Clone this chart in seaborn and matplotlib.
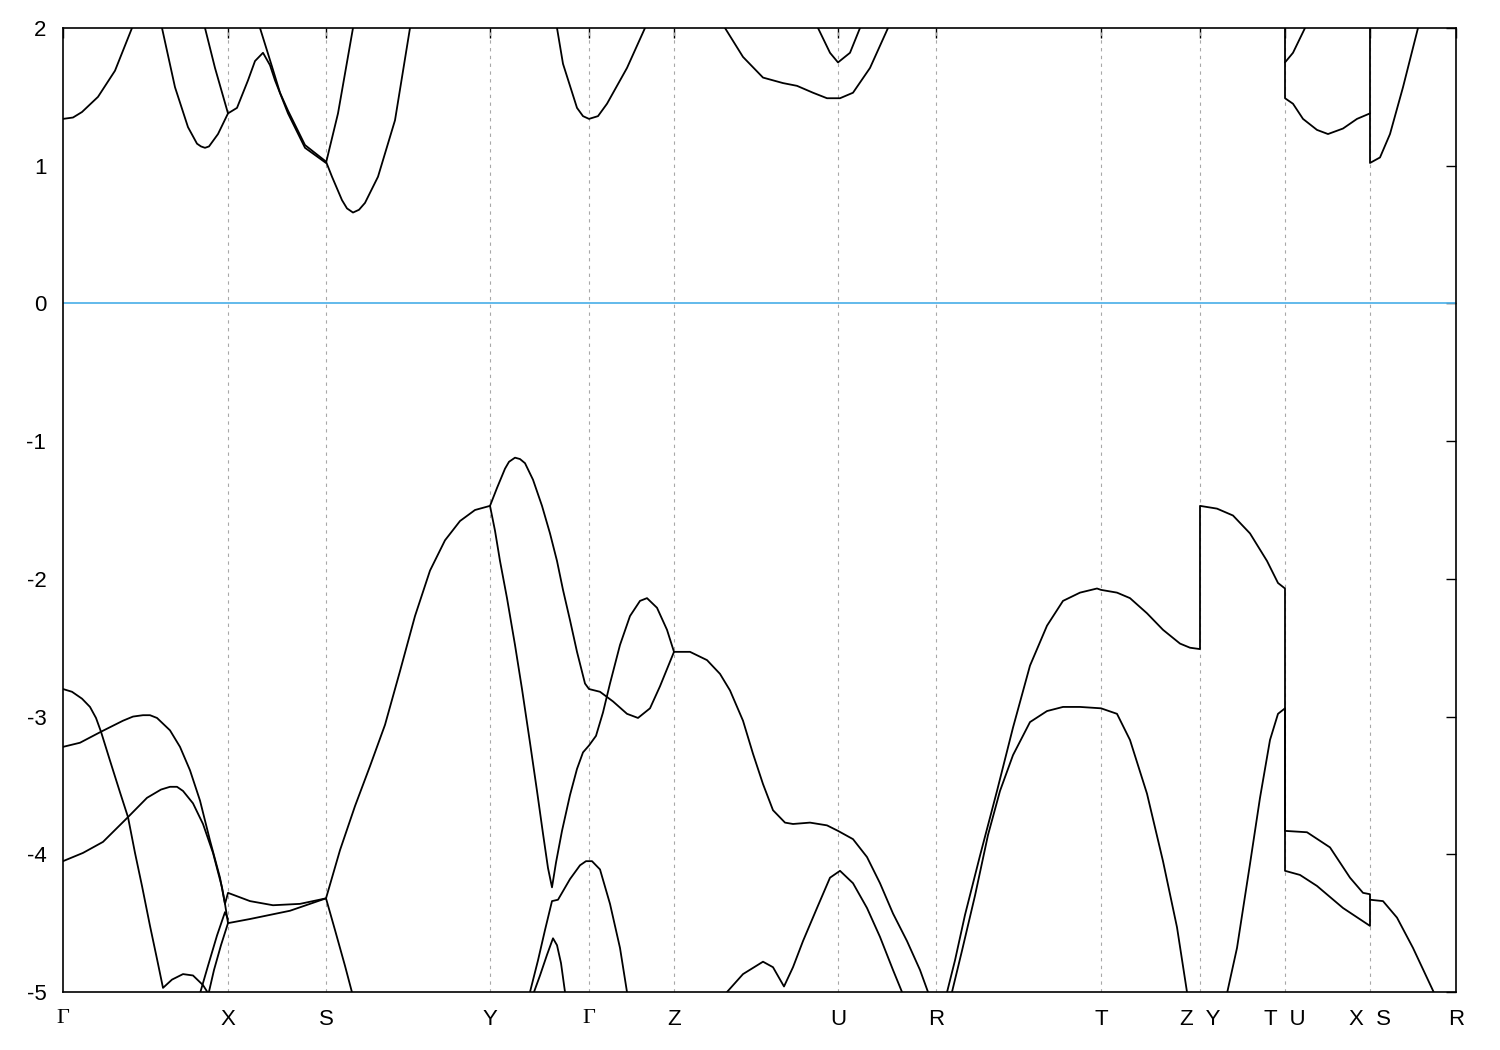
import pandas as pd
import matplotlib
matplotlib.use("Agg")
import matplotlib.pyplot as plt
import seaborn as sns


# High-symmetry points along the k-path
kpath_pos = [0.000, 0.165, 0.263, 0.427, 0.526, 0.611, 0.775, 0.873,
             1.038, 1.137, 1.222, 1.307, 1.393]
kpath_labels = ["Γ", "X", "S", "Y", "Γ", "Z", "U", "R", "T",
                "Z  Y", "T  U", "X  S", "R"]

# -----------------------------
# VALENCE BANDS (eV)
# -----------------------------
vb1_k = [0.000, 0.017, 0.038, 0.060, 0.070, 0.080, 0.087, 0.094, 0.107, 0.117, 0.127, 0.137, 0.147, 0.157, 0.162, 0.165,
         0.187, 0.210, 0.237, 0.263,
         0.277, 0.292, 0.307, 0.322, 0.337, 0.352, 0.367, 0.382, 0.397, 0.412, 0.427,
         0.434, 0.442, 0.446, 0.452, 0.457, 0.462, 0.470, 0.479, 0.487, 0.494, 0.500, 0.507, 0.514, 0.522, 0.526,
         0.537, 0.550, 0.564, 0.575, 0.587, 0.597, 0.611,
         0.627, 0.644, 0.657, 0.667, 0.680, 0.690, 0.700, 0.710, 0.722, 0.730, 0.747, 0.764, 0.775,
         0.790, 0.804, 0.817, 0.830, 0.844, 0.857, 0.865, 0.870]
vb1_e = [-3.22, -3.19, -3.11, -3.03, -3.00, -2.99, -2.99, -3.01, -3.10, -3.22, -3.39, -3.61, -3.90, -4.17, -4.36, -4.28,
         -4.34, -4.37, -4.36, -4.32,
         -3.97, -3.65, -3.36, -3.06, -2.67, -2.27, -1.94, -1.72, -1.58, -1.50, -1.47,
         -1.34, -1.20, -1.15, -1.12, -1.13, -1.16, -1.28, -1.47, -1.67, -1.87, -2.08, -2.30, -2.53, -2.76, -2.80,
         -2.82, -2.89, -2.98, -3.01, -2.94, -2.78, -2.53,
         -2.53, -2.59, -2.69, -2.81, -3.03, -3.27, -3.49, -3.68, -3.77, -3.78, -3.77, -3.79, -3.83,
         -3.89, -4.02, -4.21, -4.43, -4.63, -4.84, -5.00, -5.10]

vb2_k = [0.000, 0.009, 0.019, 0.027, 0.033, 0.038, 0.047, 0.057, 0.065, 0.072,
         0.079, 0.087, 0.094, 0.100, 0.109, 0.120, 0.130, 0.140, 0.147, 0.152]
vb2_e = [-2.80, -2.82, -2.87, -2.93, -3.01, -3.11, -3.32, -3.55, -3.73, -3.99,
         -4.23, -4.52, -4.76, -4.97, -4.91, -4.87, -4.88, -4.95, -5.03, -5.13]

vb3_k = [0.000, 0.020, 0.040, 0.065, 0.084, 0.098, 0.107, 0.114, 0.120, 0.130, 0.140, 0.150, 0.159, 0.162, 0.165,
         0.187, 0.207, 0.227, 0.247, 0.263,
         0.272, 0.282, 0.290]
vb3_e = [-4.05, -3.99, -3.91, -3.73, -3.59, -3.53, -3.51, -3.51, -3.54, -3.63, -3.78, -3.99, -4.24, -4.36, -4.50,
         -4.47, -4.44, -4.41, -4.36, -4.32,
         -4.55, -4.81, -5.03]

vb4_k = [0.135, 0.145, 0.154, 0.162, 0.165]
vb4_e = [-5.06, -4.81, -4.59, -4.42, -4.47]

vb5_k = [0.144, 0.151, 0.158, 0.165]
vb5_e = [-5.06, -4.84, -4.66, -4.50]

vb6_k = [0.427, 0.432, 0.437, 0.444, 0.452, 0.459, 0.467, 0.474, 0.480, 0.485, 0.489,
         0.493, 0.499, 0.507, 0.514, 0.520, 0.526,
         0.533, 0.540, 0.547, 0.557, 0.567, 0.577, 0.584, 0.594, 0.604, 0.611]
vb6_e = [-1.47, -1.65, -1.87, -2.14, -2.48, -2.80, -3.19, -3.54, -3.85, -4.10, -4.24,
         -4.06, -3.83, -3.57, -3.38, -3.26, -3.21,
         -3.14, -2.97, -2.76, -2.48, -2.27, -2.16, -2.14, -2.21, -2.37, -2.53]

vb7_k = [0.464, 0.467, 0.475, 0.482, 0.489, 0.495, 0.507, 0.517, 0.523, 0.529, 0.537, 0.547, 0.557, 0.564, 0.567]
vb7_e = [-5.10, -5.00, -4.77, -4.55, -4.34, -4.33, -4.18, -4.08, -4.05, -4.05, -4.11, -4.36, -4.68, -5.00, -5.13]

vb8_k = [0.468, 0.477, 0.484, 0.490, 0.494, 0.498, 0.502, 0.504]
vb8_e = [-5.06, -4.88, -4.73, -4.61, -4.66, -4.79, -5.00, -5.11]

vb9_k = [0.659, 0.664, 0.680, 0.700, 0.710, 0.721, 0.730, 0.740, 0.754,
         0.767, 0.777, 0.790, 0.804, 0.817, 0.830, 0.839, 0.842]
vb9_e = [-5.13, -5.00, -4.87, -4.78, -4.82, -4.96, -4.82, -4.63, -4.39,
         -4.17, -4.12, -4.21, -4.39, -4.60, -4.84, -5.00, -5.08]

vb10_k = [0.882, 0.892, 0.902, 0.917, 0.934, 0.950, 0.967, 0.984, 1.000, 1.017, 1.034, 1.038,
          1.054, 1.067, 1.084, 1.100, 1.117, 1.127, 1.137,
          1.137, 1.154, 1.170, 1.187, 1.204, 1.215, 1.222,
          1.222, 1.244, 1.267, 1.287, 1.300, 1.307,
          1.307, 1.320, 1.334, 1.350, 1.370, 1.377]
vb10_e = [-5.06, -4.77, -4.44, -4.01, -3.54, -3.08, -2.63, -2.34, -2.16, -2.10, -2.07, -2.08,
          -2.10, -2.14, -2.25, -2.37, -2.47, -2.50, -2.51,
          -1.47, -1.49, -1.54, -1.67, -1.87, -2.03, -2.07,
          -3.83, -3.84, -3.95, -4.17, -4.28, -4.29,
          -4.33, -4.34, -4.46, -4.68, -4.99, -5.10]

vb11_k = [0.887, 0.899, 0.912, 0.925, 0.937, 0.950, 0.967, 0.984, 1.000, 1.017, 1.038,
          1.054, 1.067, 1.084, 1.100, 1.114, 1.124, 1.127]
vb11_e = [-5.06, -4.70, -4.30, -3.86, -3.54, -3.28, -3.04, -2.96, -2.93, -2.93, -2.94,
          -2.98, -3.17, -3.56, -4.05, -4.53, -5.00, -5.12]

vb12_k = [1.161, 1.164, 1.174, 1.187, 1.197, 1.207, 1.215, 1.222,
          1.222, 1.237, 1.254, 1.280, 1.307, 1.307]
vb12_e = [-5.10, -5.01, -4.68, -4.07, -3.59, -3.17, -2.98, -2.94,
          -4.12, -4.15, -4.23, -4.39, -4.52, -4.33]

# -----------------------------
# CONDUCTION BANDS (eV)
# -----------------------------
cb1_k = [0.000, 0.010, 0.019, 0.035, 0.052, 0.069, 0.077]
cb1_e = [1.34, 1.35, 1.39, 1.50, 1.69, 2.00, 2.09]

cb2_k = [0.095, 0.099, 0.112, 0.125, 0.134, 0.138, 0.142, 0.146, 0.149, 0.155, 0.165,
         0.174, 0.185, 0.192, 0.200, 0.207, 0.212, 0.225, 0.242, 0.263,
         0.275, 0.290, 0.293]
cb2_e = [2.13, 2.00, 1.57, 1.28, 1.16, 1.14, 1.13, 1.14, 1.17, 1.23, 1.38,
         1.42, 1.62, 1.76, 1.82, 1.73, 1.62, 1.38, 1.13, 1.02,
         1.38, 2.00, 2.13]

cb3_k = [0.140, 0.142, 0.152, 0.165]
cb3_e = [2.09, 2.00, 1.71, 1.38]

cb4_k = [0.195, 0.197, 0.209, 0.217, 0.225, 0.242, 0.263,
         0.269, 0.279, 0.284, 0.290, 0.296, 0.302, 0.315, 0.332, 0.347, 0.349]
cb4_e = [2.09, 2.00, 1.72, 1.53, 1.40, 1.15, 1.03,
         0.92, 0.75, 0.69, 0.66, 0.68, 0.73, 0.92, 1.33, 2.00, 2.09]

cb5_k = [0.492, 0.494, 0.500, 0.514, 0.520, 0.526, 0.535, 0.544, 0.564, 0.582, 0.585]
cb5_e = [2.09, 2.00, 1.74, 1.42, 1.36, 1.34, 1.36, 1.45, 1.71, 2.00, 2.09]

cb6_k = [0.659, 0.662, 0.680, 0.700, 0.720, 0.734, 0.750, 0.764, 0.777, 0.790, 0.807, 0.825, 0.828]
cb6_e = [2.09, 2.00, 1.79, 1.64, 1.60, 1.58, 1.53, 1.49, 1.49, 1.53, 1.71, 2.00, 2.09]

cb7_k = [0.753, 0.755, 0.767, 0.775, 0.787, 0.797, 0.799]
cb7_e = [2.09, 2.00, 1.82, 1.75, 1.82, 2.00, 2.09]

cb8_k = [1.222, 1.222, 1.230, 1.240, 1.254, 1.265, 1.280, 1.294, 1.307]
cb8_e = [2.09, 1.49, 1.45, 1.34, 1.26, 1.23, 1.27, 1.34, 1.38]

cb9_k = [1.222, 1.230, 1.242, 1.244]
cb9_e = [1.75, 1.82, 2.00, 2.09]

cb10_k = [1.307, 1.307, 1.317, 1.327, 1.340, 1.355, 1.357]
cb10_e = [2.09, 1.02, 1.06, 1.23, 1.57, 2.00, 2.09]

bands = [
    (vb1_k, vb1_e), (vb2_k, vb2_e), (vb3_k, vb3_e), (vb4_k, vb4_e),
    (vb5_k, vb5_e), (vb6_k, vb6_e), (vb7_k, vb7_e), (vb8_k, vb8_e),
    (vb9_k, vb9_e), (vb10_k, vb10_e), (vb11_k, vb11_e), (vb12_k, vb12_e),
    (cb1_k, cb1_e), (cb2_k, cb2_e), (cb3_k, cb3_e), (cb4_k, cb4_e),
    (cb5_k, cb5_e), (cb6_k, cb6_e), (cb7_k, cb7_e), (cb8_k, cb8_e),
    (cb9_k, cb9_e), (cb10_k, cb10_e),
]

# Long table: one row per point, band id as units
frames = []
for i, (k, e) in enumerate(bands):
    frames.append(pd.DataFrame({"k": k, "E": e, "band": i}))
df = pd.concat(frames, ignore_index=True)


# -----------------------------
# PLOT
# -----------------------------
sns.set_style("white")
plt.rcParams["font.family"] = ["Liberation Sans", "DejaVu Sans"]
plt.rcParams["axes.unicode_minus"] = False

fig = plt.figure(figsize=(15, 10.5), dpi=100)
ax = fig.add_axes([63 / 1500, 1 - 992 / 1050, (1456 - 63) / 1500, (992 - 28) / 1050])

# k-point separators
for kp in kpath_pos[1:-1]:
    ax.axvline(kp, color="#a8a8a8", lw=0.8, ls=(0, (3, 4)), zorder=1)

# Fermi level
ax.axhline(0, color="#56b4e9", lw=1.3, zorder=2)

sns.lineplot(data=df, x="k", y="E", units="band", estimator=None, sort=False,
             color="black", lw=1.3, legend=False, ax=ax, zorder=3)

ax.set_xlim(kpath_pos[0], kpath_pos[-1])
ax.set_ylim(-5, 2)
ax.set_xticks(kpath_pos)
ax.set_xticklabels(kpath_labels)
ax.set_yticks(range(-5, 3))
ax.set_yticklabels([str(v) for v in range(-5, 3)])
ax.set_xlabel("")
ax.set_ylabel("")

ax.tick_params(axis="both", direction="in", length=7, width=1.0,
               top=True, right=True, labelsize=16, colors="black")
ax.tick_params(axis="x", pad=12)
ax.tick_params(axis="y", pad=12)
for lab in ax.get_xticklabels():
    if lab.get_text() == "Γ":
        lab.set_family(["Liberation Serif", "DejaVu Serif"])
for sp in ax.spines.values():
    sp.set_color("black")
    sp.set_linewidth(1.2)

fig.savefig("out.png", dpi=100, facecolor="white")
